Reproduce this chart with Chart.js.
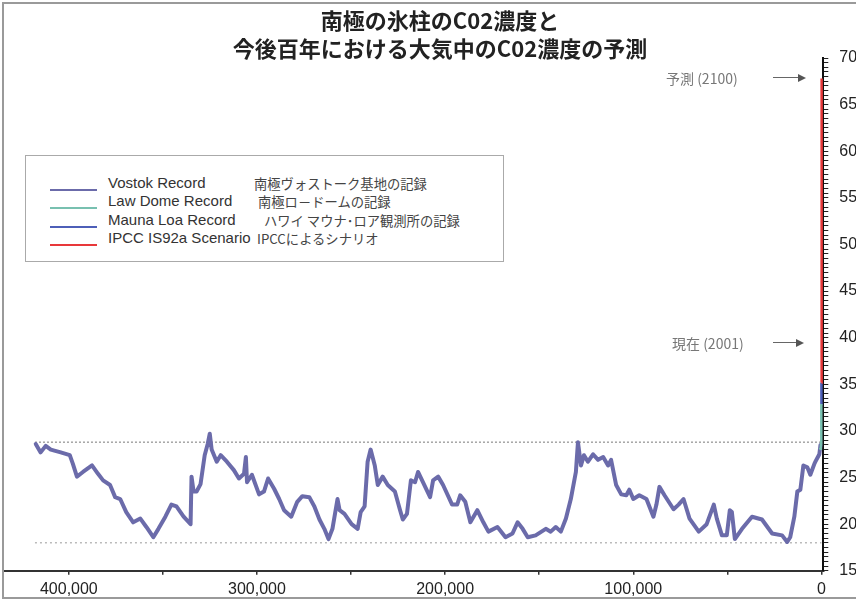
<!DOCTYPE html>
<html>
<head>
<meta charset="utf-8">
<script src="https://cdn.jsdelivr.net/npm/chart.js@4/dist/chart.umd.min.js"></script>
<style>
html,body{margin:0;padding:0;background:#fff;width:856px;height:601px;overflow:hidden;}
#wrap{position:absolute;left:0;top:0;width:879px;height:601px;}
#frame{position:absolute;left:2px;top:2px;width:900px;height:597px;border:2px solid #9a9a9a;pointer-events:none;box-sizing:border-box;}
#legend{position:absolute;left:25px;top:155px;width:479px;height:107px;border:1px solid #aaa;box-sizing:border-box;background:#fff;}
.sample{position:absolute;left:24px;width:47px;height:2px;}
.en{position:absolute;left:82px;height:18px;line-height:18px;font:15px 'Liberation Sans',Arial,sans-serif;color:#333;white-space:nowrap;}
.ja{position:absolute;height:18px;line-height:18px;font:13.3px 'Noto Sans CJK JP',sans-serif;color:#444;white-space:nowrap;}
.note{position:absolute;height:16px;line-height:16px;font:14px 'Noto Sans CJK JP',sans-serif;color:#777;white-space:nowrap;}
.arrow{position:absolute;height:1px;background:#666;}
.arrow:after{content:'';position:absolute;right:-8px;top:-3.5px;border-left:8px solid #555;border-top:4px solid transparent;border-bottom:4px solid transparent;}
</style>
</head>
<body>
<div id="wrap"><canvas id="c"></canvas></div>
<div id="legend"></div>
<div class="note" style="left:666px;top:68px;">予測 (2100)</div>
<div class="arrow" style="left:773px;top:77px;width:25px;"></div>
<div class="note" style="left:672px;top:333px;">現在 (2001)</div>
<div class="arrow" style="left:773px;top:342px;width:23px;"></div>
<div id="frame"></div>
<script>
// ---- Data (years before present, CO2 ppmv) ----
const vostokYears = [417600,415000,412300,409600,404300,399500,397900,395700,392500,387700,384500,381800,378100,375400,372700,369500,365800,362000,358800,355100,352400,348700,345500,342800,339000,335300,334800,333700,332100,330000,327800,326200,325100,324100,321400,319300,316000,312300,309600,306900,305900,305300,302700,298900,296300,294100,290900,288200,285600,281800,278600,275900,272200,269500,266800,264200,262000,259900,257200,256100,253500,249700,246500,244900,242800,241200,239600,237400,235800,233200,230500,226700,224100,222500,220300,218200,216000,214400,211800,208000,206400,203700,201100,196300,193600,192000,189300,186600,182900,179700,177000,172200,167900,164200,161500,158800,156100,151900,146500,143900,141200,138500,135800,133200,130500,129400,127800,126200,124100,121400,118700,116000,113400,111800,109100,106400,103700,102100,100000,96800,93000,89300,87700,86100,83400,78600,75900,73300,70100,65200,61000,57200,55600,52900,50300,48700,47600,46000,42200,36900,31600,26200,20900,18200,16600,14400,12800,11200,9600,7500,5900,3700,3200,1100,500];
const vostokCO2 = [286,277,284,280,277,274,265,251,256,263,254,247,242,229,227,213,202,206,197,186,195,208,221,219,208,200,251,235,235,243,274,286,297,280,267,274,267,258,249,254,272,245,253,232,235,249,238,227,215,208,224,230,229,219,205,195,184,195,227,215,211,200,195,213,219,267,280,263,242,251,242,235,216,205,211,247,245,256,245,229,247,251,242,221,221,231,224,202,215,202,192,197,186,190,202,195,186,188,195,192,197,192,206,227,256,288,263,274,267,275,269,272,263,269,242,232,231,237,227,231,227,208,221,240,231,216,221,227,206,192,200,221,206,188,188,215,213,184,195,208,205,190,188,181,186,208,235,237,263,261,253,265,267,275,285];
const lawDomeYears = [1000,600,300,150,100,60,30];
const lawDomeCO2 = [280,281,283,287,295,310,329];
const maunaLoaYears = [30,20,10,0];
const maunaLoaCO2 = [329,336,344,352];
const ipccYears = [0,-100];
const ipccCO2 = [352,678];
const guideYears = [418000,0];
const guideHigh = [288,288];
const guideLow = [180,180];

const seriesNames = ['Vostok Record','Law Dome Record','Mauna Loa Record','IPCC IS92a Scenario'];
const seriesNamesJa = ['南極ヴォストーク基地の記録','南極ロ－ドームの記録','ハワイ  マウナ･ロア観測所の記録','IPCCによるシナリオ'];
const seriesColors = ['#6b6baa','#78c0b0','#4d5fb8','#e8383a'];

const titleLines = ['南極の氷柱のC02濃度と','今後百年における大気中のC02濃度の予測'];
const xTickValues = [400000,350000,300000,250000,200000,150000,100000,50000,0];
const xLabelValues = [400000,300000,200000,100000,0];
const yLabelValues = [150,200,250,300,350,400,450,500,550,600,650,700];

// ---- Helpers ----
const pts = (xs, ys) => xs.map((x, i) => ({x: x, y: ys[i]}));
const yTickValues = [];
for (let v = 150; v <= 700; v += 5) yTickValues.push(v);

// ---- HTML legend ----
const legendTop = [18, 36, 55, 73];
const jaLeft = [228, 232, 238, 231];
const leg = document.getElementById('legend');
seriesNames.forEach((n, i) => {
  const s = document.createElement('div');
  s.className = 'sample';
  s.style.top = (legendTop[i] + 15) + 'px';
  s.style.background = seriesColors[i];
  leg.appendChild(s);
  const e = document.createElement('div');
  e.className = 'en'; e.style.top = legendTop[i] + 'px'; e.textContent = n;
  leg.appendChild(e);
  const j = document.createElement('div');
  j.className = 'ja'; j.style.top = legendTop[i] + 'px'; j.style.left = jaLeft[i] + 'px'; j.textContent = seriesNamesJa[i];
  leg.appendChild(j);
});

Chart.defaults.font.family = "'Liberation Sans', Arial, sans-serif";

new Chart(document.getElementById('c'), {
  type: 'line',
  data: {
    datasets: [
      {label: seriesNames[3], data: pts(ipccYears, ipccCO2), borderColor: seriesColors[3], borderWidth: 2.5, order: 1},
      {label: seriesNames[1], data: pts(lawDomeYears, lawDomeCO2), borderColor: seriesColors[1], borderWidth: 2.5, order: 2},
      {label: seriesNames[2], data: pts(maunaLoaYears, maunaLoaCO2), borderColor: seriesColors[2], borderWidth: 2.5, order: 3},
      {label: seriesNames[0], data: pts(vostokYears, vostokCO2), borderColor: seriesColors[0], borderWidth: 4, borderCapStyle: 'round', borderJoinStyle: 'round', order: 4},
      {label: 'max', data: pts(guideYears, guideHigh), borderColor: '#777', borderWidth: 1, borderDash: [2, 2], order: 9},
      {label: 'min', data: pts(guideYears, guideLow), borderColor: '#999', borderWidth: 1, borderDash: [2, 3], order: 9}
    ]
  },
  options: {
    responsive: true,
    maintainAspectRatio: false,
    animation: false,
    devicePixelRatio: 1,
    elements: {point: {radius: 0, hoverRadius: 0}, line: {tension: 0, fill: false}},
    layout: {padding: {left: 3, right: 2, top: 0, bottom: -3}},
    plugins: {
      legend: {display: false},
      tooltip: {enabled: false},
      title: {
        display: true,
        text: titleLines,
        color: '#222',
        font: {family: "'Noto Sans CJK JP', sans-serif", size: 22, weight: 'bold', lineHeight: 1.25},
        padding: {top: 7, bottom: -4}
      }
    },
    scales: {
      x: {
        type: 'linear',
        reverse: true,
        min: -1000,
        max: 435000,
        afterBuildTicks: s => { s.ticks = xTickValues.map(v => ({value: v})); },
        ticks: {
          autoSkip: false, maxRotation: 0, padding: 5, color: '#222',
          font: {size: 16},
          callback: v => xLabelValues.includes(v) ? v.toLocaleString('en-US') : ''
        },
        grid: {drawOnChartArea: false, drawTicks: true, tickLength: 4, color: '#333', lineWidth: 1.5},
        border: {display: true, color: '#333', width: 2}
      },
      y: {
        type: 'linear',
        position: 'right',
        min: 150,
        max: 700,
        afterBuildTicks: s => { s.ticks = yTickValues.map(v => ({value: v})); },
        ticks: {
          autoSkip: false, padding: 11, color: '#222',
          font: {size: 16},
          callback: v => yLabelValues.includes(v) ? String(v) : ''
        },
        grid: {drawOnChartArea: false, drawTicks: true, tickLength: 5, color: '#222', lineWidth: 1},
        border: {display: true, color: '#111', width: 2}
      }
    }
  }
});
</script>
</body>
</html>
